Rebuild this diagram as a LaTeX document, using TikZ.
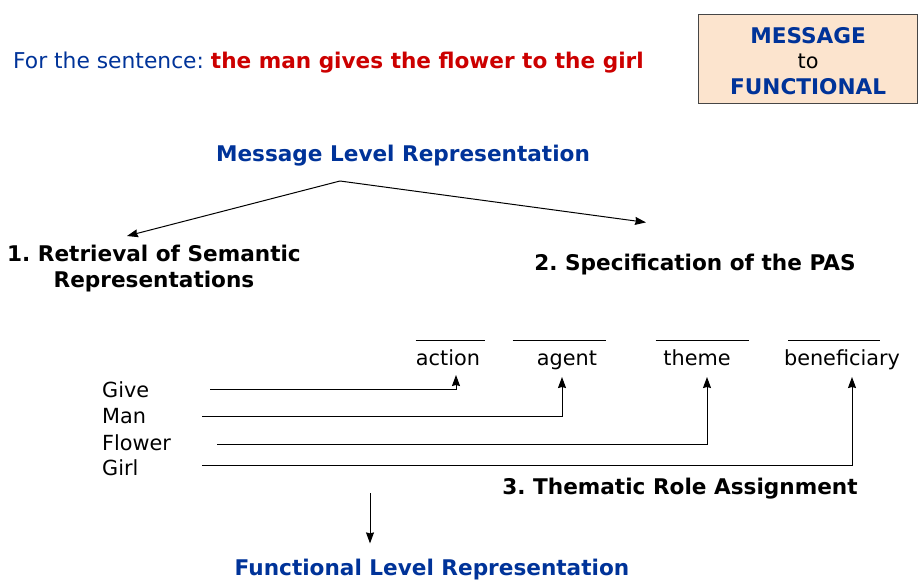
\documentclass[tikz,border=0pt]{standalone}
\usepackage{fontspec}
\setmainfont{DejaVu Sans}
\usepackage{xcolor}
\usetikzlibrary{calc,arrows.meta}
\definecolor{msgblue}{RGB}{0,51,153}
\definecolor{sentred}{RGB}{204,0,0}
\definecolor{boxfill}{RGB}{252,228,206}
\definecolor{boxline}{RGB}{70,70,70}
\frenchspacing

\begin{document}
\begin{tikzpicture}[x=1pt, y=-1pt,
  txt/.style={font=\fontsize{20.8}{25.5}\selectfont, inner sep=0pt},
  heading/.style={txt, font=\fontsize{21.6}{25.5}\selectfont\bfseries, text=msgblue},
  stage/.style={txt, font=\fontsize{21.6}{26}\selectfont\bfseries, align=center},
  blank/.style={inner sep=0pt},
  link/.style={-{Stealth[length=11pt,width=8pt,inset=1pt]}, line width=1pt}]
\useasboundingbox (0,0) rectangle (918,579);

% Sentence and title box
\node[txt, font=\fontsize{21.8}{25.5}\selectfont, anchor=base west, text=msgblue] (sent) at (13,68)
  {For the sentence: \textcolor{sentred}{\fontsize{21.6}{25.5}\selectfont\bfseries the man gives the flower to the girl}};
\node[txt, draw=boxline, line width=1.2pt, fill=boxfill, minimum width=219, minimum height=89,
  anchor=north west] (mtof) at (698,14) {};
\node[txt, align=center, anchor=center] (mtoftext) at ($(mtof.center)+(0,2)$)
  {\textbf{\fontsize{21.6}{25.5}\selectfont\color{msgblue}MESSAGE}\\to\\\textbf{\fontsize{21.6}{25.5}\selectfont\color{msgblue}FUNCTIONAL}};

% Message level and the two branches
\node[heading, anchor=base] (mlr) at (403,161) {Message Level Representation};
\node[stage, anchor=north] (ret) at (154,245) {1. Retrieval of Semantic\\Representations};
\node[stage, anchor=base] (pas) at (695,270) {2. Specification of the PAS};
\coordinate (apex) at (340,181);
\draw[link] (apex) -- ($(ret.north)+(-27,-9)$);
\draw[link] (apex) -- ($(pas.north)+(-49,-31)$);

% Thematic roles
\node[txt, anchor=base] (action) at (448,365) {action};
\node[txt, anchor=base] (agent) at (567,365) {agent};
\node[txt, anchor=base] (theme) at (697,365) {theme};
\node[txt, anchor=base] (benef) at (842,365) {beneficiary};
\node[blank, anchor=south] (actionblank) at (450,341) {\rule{69pt}{0.8pt}};
\node[blank, anchor=south] (agentblank) at (559,341) {\rule{93pt}{0.8pt}};
\node[blank, anchor=south] (themeblank) at (702,341) {\rule{93pt}{0.8pt}};
\node[blank, anchor=south] (benefblank) at (834,341) {\rule{92pt}{0.8pt}};

% Words
\node[txt, anchor=base west] (give) at (102,397) {Give};
\node[txt, anchor=base west] (man) at (102,423) {Man};
\node[txt, anchor=base west] (flower) at (102,450) {Flower};
\node[txt, anchor=base west] (girl) at (102,475) {Girl};
\coordinate (giveline) at (210,389);
\coordinate (manline) at (202,416);
\coordinate (flowerline) at (217,444);
\coordinate (girlline) at (202,465);
\draw[link] (giveline) -| ($(action.base)+(8,10)$);
\draw[link] (manline) -| ($(agent.base)+(-5,12)$);
\draw[link] (flowerline) -| ($(theme.base)+(10,12)$);
\draw[link] (girlline) -| ($(benef.base)+(10,12)$);

% Functional level
\node[stage, anchor=base] (tra) at (680,494) {3. Thematic Role Assignment};
\node[heading, anchor=base] (flr) at (432,575) {Functional Level Representation};
\coordinate (flrstart) at (370,493);
\draw[link] (flrstart) -- ($(flrstart |- flr.north)+(0,-15)$);
\end{tikzpicture}
\end{document}
